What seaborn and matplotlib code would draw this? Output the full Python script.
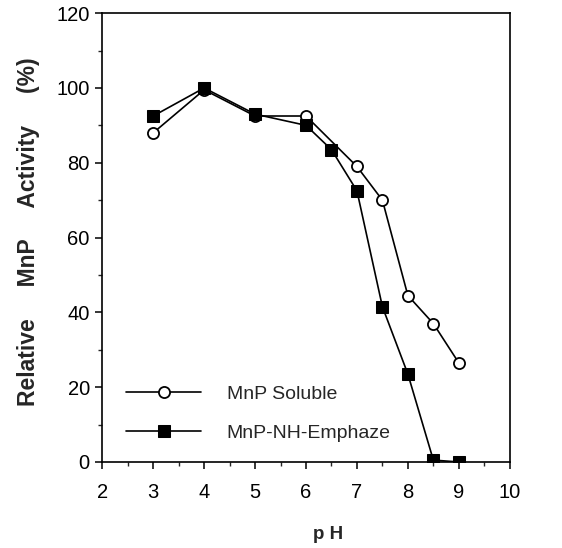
import matplotlib
matplotlib.use("Agg")
import matplotlib.pyplot as plt
from matplotlib.ticker import MultipleLocator
import seaborn as sns
import pandas as pd

# values
ph_soluble = [3, 4, 5, 6, 7, 7.5, 8, 8.5, 9]
act_soluble = [88, 99.5, 92.5, 92.5, 79, 70, 44.5, 37, 26.5]

ph_emphaze = [3, 4, 5, 6, 6.5, 7, 7.5, 8, 8.5, 9]
act_emphaze = [92.5, 100, 93, 90, 83.5, 72.5, 41.5, 23.5, 0.5, 0]

sns.set_style("ticks")
plt.rcParams["font.family"] = ["Liberation Sans", "DejaVu Sans"]

soluble = pd.DataFrame({"pH": ph_soluble, "activity": act_soluble})
emphaze = pd.DataFrame({"pH": ph_emphaze, "activity": act_emphaze})

fig = plt.figure(figsize=(5.62, 5.48), dpi=100)
ax = fig.add_axes([0.182, 0.157, 0.725, 0.819])

sns.lineplot(data=soluble, x="pH", y="activity", ax=ax, color="black",
             linewidth=1.2, marker="o", markersize=8, markerfacecolor="white",
             markeredgecolor="black", markeredgewidth=1.3, label="MnP Soluble")
sns.lineplot(data=emphaze, x="pH", y="activity", ax=ax, color="black",
             linewidth=1.2, marker="s", markersize=8, markerfacecolor="black",
             markeredgecolor="black", label="MnP-NH-Emphaze")

ax.set_xlim(2, 10)
ax.set_ylim(0, 120)
ax.xaxis.set_major_locator(MultipleLocator(1))
ax.xaxis.set_minor_locator(MultipleLocator(0.5))
ax.yaxis.set_major_locator(MultipleLocator(20))
ax.yaxis.set_minor_locator(MultipleLocator(10))
ax.tick_params(which="major", direction="out", length=5, width=1.1,
               labelsize=14.5, colors="black")
ax.tick_params(axis="x", which="major", pad=10)
ax.tick_params(axis="y", which="major", pad=4)
ax.tick_params(which="minor", direction="out", length=3, width=1)
for s in ax.spines.values():
    s.set_visible(True)
    s.set_linewidth(1.2)
    s.set_color("black")

ax.set_xlabel("p H", fontsize=13.5, fontweight="bold")
ax.xaxis.set_label_coords(0.555, -0.142)
gap = "     "
ax.set_ylabel(gap.join(["Relative", "MnP", "Activity", "(%)"]),
              fontsize=16.5, fontweight="bold")
ax.yaxis.set_label_coords(-0.152, 0.512)

ax.legend(loc="lower left", bbox_to_anchor=(0.059, 0.045), frameon=False,
          borderpad=0, borderaxespad=0, handlelength=3.86, handletextpad=1.3,
          labelspacing=1.1, fontsize=14)

fig.savefig("out.png", dpi=100)
